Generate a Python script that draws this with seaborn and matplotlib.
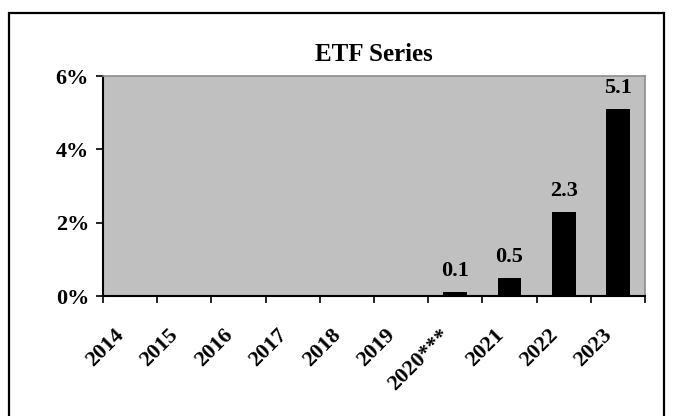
import numpy as np
import pandas as pd
import seaborn as sns
import matplotlib.pyplot as plt
import matplotlib.transforms as mtransforms
from matplotlib.patches import Rectangle

# Chart data (percent)
years = ['2014', '2015', '2016', '2017', '2018', '2019', '2020***', '2021', '2022', '2023']
share = [0.0, 0.0, 0.0, 0.0, 0.0, 0.0, 0.1, 0.5, 2.3, 5.1]
bar_text = ['', '', '', '', '', '', '0.1', '0.5', '2.3', '5.1']
y_ticks = [0, 2, 4, 6]

df = pd.DataFrame({'year': years, 'share': share})

sns.set_style('white')
plt.rcParams['font.family'] = ['Liberation Serif', 'DejaVu Serif']
plt.rcParams['font.weight'] = 'bold'
plt.rcParams['text.color'] = 'black'
plt.rcParams['xtick.color'] = 'black'
plt.rcParams['ytick.color'] = 'black'

fig = plt.figure(figsize=(6.73, 4.16), dpi=100)
ax = fig.add_axes([103 / 673, 1 - 296 / 416, 542 / 673, 220 / 416])
ax.set_facecolor('#c0c0c0')

sns.barplot(data=df, x='year', y='share', order=years, color='black',
            width=0.44, linewidth=0, saturation=1, ax=ax)

ax.bar_label(ax.containers[0], labels=bar_text, padding=8,
             fontsize=16, fontweight='bold', color='black')

ax.set_xlim(-0.5, len(years) - 0.5)
ax.set_ylim(0, 6)
ax.set_yticks(y_ticks)
ax.set_yticklabels([f'{t}%' for t in y_ticks], fontsize=16, fontweight='bold')

# category labels at centres, tick marks at the boundaries
ax.set_xticks(range(len(years)))
ax.set_xticklabels(years, rotation=45, ha='right', va='top',
                   rotation_mode='anchor', fontsize=16, fontweight='bold')
ax.set_xticks(np.arange(-0.5, len(years)), minor=True)
ax.tick_params(axis='x', which='major', length=0, pad=21)
ax.tick_params(axis='x', which='minor', length=5, width=1.2,
               direction='out', bottom=True)
ax.tick_params(axis='y', length=5, width=1.2, direction='out',
               left=True, pad=5)
shift = mtransforms.ScaledTranslation(-16 / 100, 0, fig.dpi_scale_trans)
for lab in ax.get_xticklabels():
    lab.set_transform(lab.get_transform() + shift)

ax.set_xlabel('')
ax.set_ylabel('')
ax.set_title('ETF Series', fontsize=18, fontweight='bold', pad=11)

for side in ['left', 'bottom']:
    ax.spines[side].set_color('black')
    ax.spines[side].set_linewidth(1.5)
for side in ['top', 'right']:
    ax.spines[side].set_color('#8c8c8c')
    ax.spines[side].set_linewidth(1.2)

# outer chart frame
fig.patches.append(Rectangle((9 / 673, -0.1), 655 / 673, 1.1 - 13 / 416,
                             transform=fig.transFigure, fill=False,
                             edgecolor='black', linewidth=1.6))

fig.savefig('out.png', dpi=100)
